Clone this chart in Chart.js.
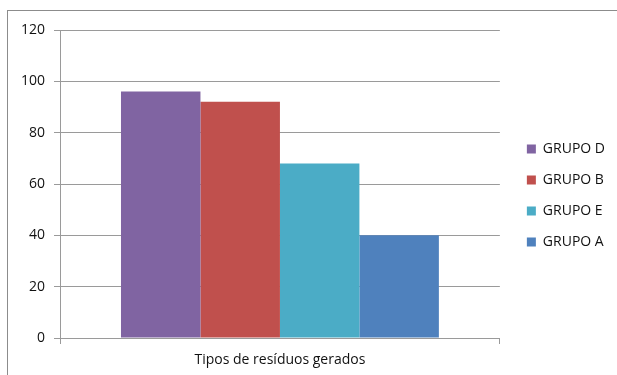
<!DOCTYPE html>
<html>
<head>
<meta charset="utf-8">
<script src="https://cdn.jsdelivr.net/npm/chart.js@4/dist/chart.umd.min.js"></script>
<style>
  html, body { margin: 0; padding: 0; background: #ffffff; }
  #wrap { position: relative; width: 617px; height: 375px; overflow: hidden; }
  #frame {
    position: absolute; left: 7px; top: 10px; width: 700px; height: 500px;
    border-top: 1px solid #8c8c8c; border-left: 1px solid #8c8c8c;
  }
  #chart { position: absolute; left: 0; top: 0; }
</style>
</head>
<body>
<div id="wrap">
  <div id="frame"></div>
  <canvas id="chart" width="617" height="375"></canvas>
</div>
<script>
// Category and series
const categories = ['Tipos de resíduos gerados'];
const seriesNames = ['GRUPO D', 'GRUPO B', 'GRUPO E', 'GRUPO A'];
const grupoD = [96];
const grupoB = [92];
const grupoE = [68];
const grupoA = [40];
const seriesColors = ['#8064A2', '#C0504D', '#4BACC6', '#4F81BD'];
const yTicks = [0, 20, 40, 60, 80, 100, 120];

const seriesValues = [grupoD, grupoB, grupoE, grupoA];

const FONT = { family: "'Open Sans', 'DejaVu Sans', sans-serif", size: 14 };
const AXIS_GREY = '#9a9a9a';

// Moves the legend block a little away from the plot, Excel-style
const legendNudge = {
  id: 'legendNudge',
  afterLayout(chart, args, opts) {
    const lg = chart.legend;
    if (!lg) return;
    lg.left += opts.dx; lg.right += opts.dx;
    lg.top += opts.dy; lg.bottom += opts.dy;
  }
};

new Chart(document.getElementById('chart'), {
  type: 'bar',
  data: {
    labels: categories,
    datasets: seriesNames.map((name, i) => ({
      label: name,
      data: seriesValues[i],
      backgroundColor: seriesColors[i],
      borderWidth: 0,
      categoryPercentage: 0.7227,
      barPercentage: 1.0
    }))
  },
  options: {
    responsive: false,
    animation: false,
    devicePixelRatio: 1,
    layout: { padding: { top: 30, right: 12, bottom: 0, left: 0 } },
    plugins: {
      tooltip: { enabled: false },
      legend: {
        position: 'right',
        align: 'center',
        labels: {
          font: FONT,
          color: '#111111',
          boxWidth: 9,
          boxHeight: 9,
          padding: 17
        }
      },
      legendNudge: { dx: 10, dy: -7 }
    },
    scales: {
      x: {
        grid: {
          drawOnChartArea: false,
          drawTicks: true,
          tickLength: 6,
          color: AXIS_GREY
        },
        border: { color: AXIS_GREY, width: 1 },
        ticks: { font: FONT, color: '#111111', padding: 8 },
        afterFit(scale) { scale.height = 37; }
      },
      y: {
        min: yTicks[0],
        max: yTicks[yTicks.length - 1],
        grid: {
          color: AXIS_GREY,
          tickLength: 6,
          drawTicks: true
        },
        border: { color: AXIS_GREY, width: 1 },
        ticks: {
          stepSize: yTicks[1] - yTicks[0],
          font: FONT,
          color: '#111111',
          padding: 9
        },
        afterFit(scale) { scale.width = 60; }
      }
    }
  },
  plugins: [legendNudge]
});
</script>
</body>
</html>
